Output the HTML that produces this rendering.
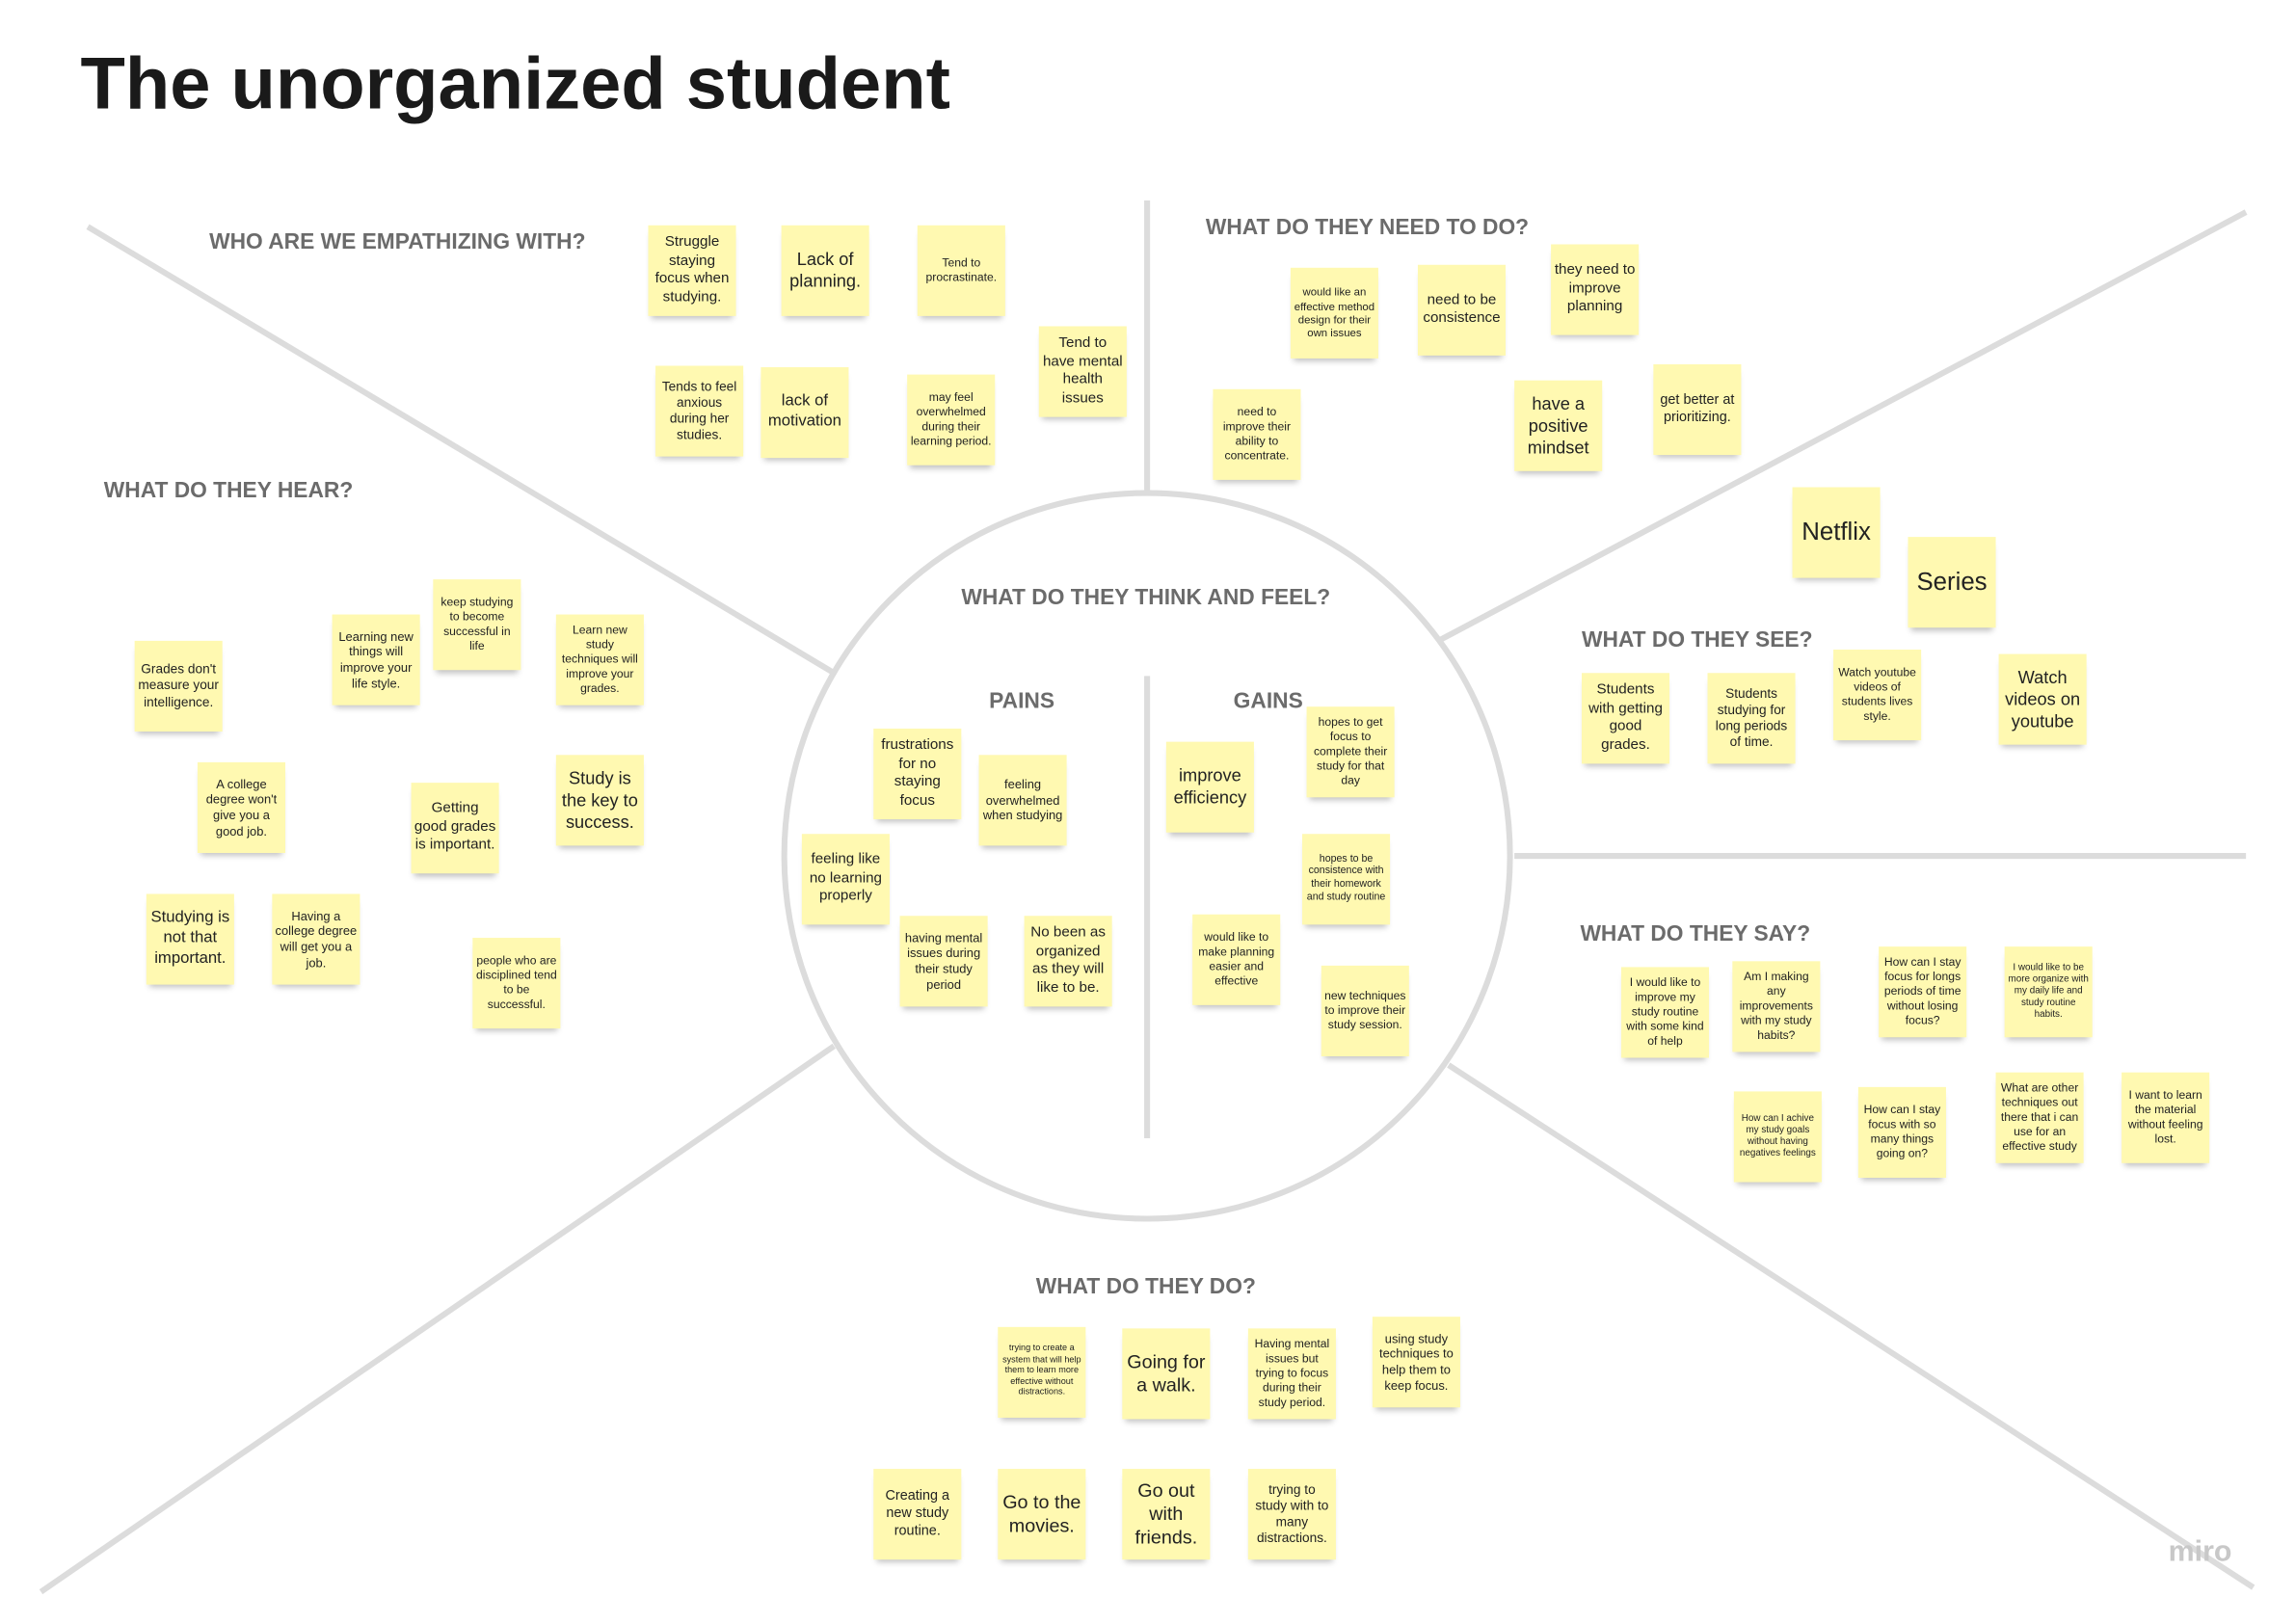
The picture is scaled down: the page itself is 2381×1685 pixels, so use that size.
<!DOCTYPE html>
<html><head><meta charset="utf-8"><style>
html,body{margin:0;padding:0;background:#fff;width:2381px;height:1679px;overflow:hidden}
#w{position:absolute;left:0;top:0;width:1570px;height:1110px;transform:scale(1.518);transform-origin:0 0;font-family:"Liberation Sans",sans-serif}
.n{position:absolute;width:60px;height:62px;background:#fff9b1;display:flex;align-items:center;justify-content:center;text-align:center;color:#222;line-height:1.25;box-shadow:0 4px 4px -2px rgba(0,0,0,.25);padding:2px;box-sizing:border-box}
.h{position:absolute;color:#6b6b6b;font-weight:bold;font-size:15px;white-space:nowrap}
</style></head><body><div id="w">
<svg width="1570" height="1110" style="position:absolute;left:0;top:0" stroke="#dcdcdc" stroke-width="4" fill="none">
<line x1="60" y1="155" x2="570" y2="460"/>
<line x1="784" y1="137" x2="784" y2="335"/>
<line x1="985" y1="437" x2="1535" y2="145"/>
<line x1="1035" y1="585" x2="1535" y2="585"/>
<line x1="990" y1="728" x2="1540" y2="1085"/>
<line x1="570" y1="715" x2="28" y2="1088"/>
<circle cx="784" cy="585" r="248"/>
<line x1="784" y1="462" x2="784" y2="778"/>
</svg>
<div style="position:absolute;left:55px;top:28px;font-size:50px;font-weight:bold;color:#1a1a1a">The unorganized student</div>
<div class="h" style="left:143px;top:157px">WHO ARE WE EMPATHIZING WITH?</div>
<div class="h" style="left:824px;top:147px">WHAT DO THEY NEED TO DO?</div>
<div class="h" style="left:71px;top:327px">WHAT DO THEY HEAR?</div>
<div class="h" style="left:657px;top:400px">WHAT DO THEY THINK AND FEEL?</div>
<div class="h" style="left:676px;top:471px">PAINS</div>
<div class="h" style="left:843px;top:471px">GAINS</div>
<div class="h" style="left:1081px;top:429px">WHAT DO THEY SEE?</div>
<div class="h" style="left:1080px;top:630px">WHAT DO THEY SAY?</div>
<div class="h" style="left:708px;top:871px">WHAT DO THEY DO?</div>
<div style="position:absolute;left:1482px;top:1050px;font-size:20px;color:#c8c8c8;font-weight:bold">miro</div>

<div class="n" style="left:443px;top:154px;font-size:10px">Struggle staying focus when studying.</div>
<div class="n" style="left:534px;top:154px;font-size:12px">Lack of planning.</div>
<div class="n" style="left:627px;top:154px;font-size:8px">Tend to procrastinate.</div>
<div class="n" style="left:710px;top:223px;font-size:10px">Tend to have mental health issues</div>
<div class="n" style="left:448px;top:250px;font-size:9px">Tends to feel anxious during her studies.</div>
<div class="n" style="left:520px;top:251px;font-size:11px">lack of motivation</div>
<div class="n" style="left:620px;top:256px;font-size:8px">may feel overwhelmed during their learning period.</div>

<div class="n" style="left:882px;top:183px;font-size:7.5px">would like an effective method design for their own issues</div>
<div class="n" style="left:969px;top:181px;font-size:10px">need to be consistence</div>
<div class="n" style="left:1060px;top:167px;font-size:10px">they need to improve planning</div>
<div class="n" style="left:829px;top:266px;font-size:8px">need to improve their ability to concentrate.</div>
<div class="n" style="left:1035px;top:260px;font-size:12px">have a positive mindset</div>
<div class="n" style="left:1130px;top:249px;font-size:9.5px">get better at prioritizing.</div>

<div class="n" style="left:1225px;top:333px;font-size:17px">Netflix</div>
<div class="n" style="left:1304px;top:367px;font-size:17px">Series</div>
<div class="n" style="left:1081px;top:460px;font-size:10px">Students with getting good grades.</div>
<div class="n" style="left:1167px;top:460px;font-size:9px">Students studying for long periods of time.</div>
<div class="n" style="left:1253px;top:444px;font-size:8px">Watch youtube videos of students lives style.</div>
<div class="n" style="left:1366px;top:447px;font-size:12px">Watch videos on youtube</div>

<div class="n" style="left:1108px;top:661px;font-size:8px">I would like to improve my study routine with some kind of help</div>
<div class="n" style="left:1184px;top:657px;font-size:8px">Am I making any improvements with my study habits?</div>
<div class="n" style="left:1284px;top:647px;font-size:8px">How can I stay focus for longs periods of time without losing focus?</div>
<div class="n" style="left:1370px;top:647px;font-size:6.5px">I would like to be more organize with my daily life and study routine habits.</div>
<div class="n" style="left:1185px;top:746px;font-size:6.5px">How can I achive my study goals without having negatives feelings</div>
<div class="n" style="left:1270px;top:743px;font-size:8px">How can I stay focus with so many things going on?</div>
<div class="n" style="left:1364px;top:733px;font-size:8px">What are other techniques out there that i can use for an effective study</div>
<div class="n" style="left:1450px;top:733px;font-size:8px">I want to learn the material without feeling lost.</div>

<div class="n" style="left:92px;top:438px;font-size:9px">Grades don't measure your intelligence.</div>
<div class="n" style="left:227px;top:420px;font-size:8.5px">Learning new things will improve your life style.</div>
<div class="n" style="left:296px;top:396px;font-size:8px">keep studying to become successful in life</div>
<div class="n" style="left:380px;top:420px;font-size:8px">Learn new study techniques will improve your grades.</div>
<div class="n" style="left:135px;top:521px;font-size:8.5px">A college degree won't give you a good job.</div>
<div class="n" style="left:281px;top:535px;font-size:10px">Getting good grades is important.</div>
<div class="n" style="left:380px;top:516px;font-size:12px">Study is the key to success.</div>
<div class="n" style="left:100px;top:611px;font-size:11px">Studying is not that important.</div>
<div class="n" style="left:186px;top:611px;font-size:8.5px">Having a college degree will get you a job.</div>
<div class="n" style="left:323px;top:641px;font-size:8px">people who are disciplined tend to be successful.</div>

<div class="n" style="left:597px;top:498px;font-size:10px">frustrations for no staying focus</div>
<div class="n" style="left:669px;top:516px;font-size:8.5px">feeling overwhelmed when studying</div>
<div class="n" style="left:548px;top:570px;font-size:10px">feeling like no learning properly</div>
<div class="n" style="left:615px;top:626px;font-size:8.5px">having mental issues during their study period</div>
<div class="n" style="left:700px;top:626px;font-size:10px">No been as organized as they will like to be.</div>

<div class="n" style="left:797px;top:507px;font-size:12px">improve efficiency</div>
<div class="n" style="left:893px;top:483px;font-size:8px">hopes to get focus to complete their study for that day</div>
<div class="n" style="left:890px;top:570px;font-size:7px">hopes to be consistence with their homework and study routine</div>
<div class="n" style="left:815px;top:625px;font-size:8px">would like to make planning easier and effective</div>
<div class="n" style="left:903px;top:660px;font-size:8px">new techniques to improve their study session.</div>

<div class="n" style="left:682px;top:907px;font-size:6px">trying to create a system that will help them to learn more effective without distractions.</div>
<div class="n" style="left:767px;top:908px;font-size:13px">Going for a walk.</div>
<div class="n" style="left:853px;top:908px;font-size:8px">Having mental issues but trying to focus during their study period.</div>
<div class="n" style="left:938px;top:900px;font-size:8.5px">using study techniques to help them to keep focus.</div>
<div class="n" style="left:597px;top:1004px;font-size:9.5px">Creating a new study routine.</div>
<div class="n" style="left:682px;top:1004px;font-size:13px">Go to the movies.</div>
<div class="n" style="left:767px;top:1004px;font-size:13px">Go out with friends.</div>
<div class="n" style="left:853px;top:1004px;font-size:9px">trying to study with to many distractions.</div>
</div></body></html>
